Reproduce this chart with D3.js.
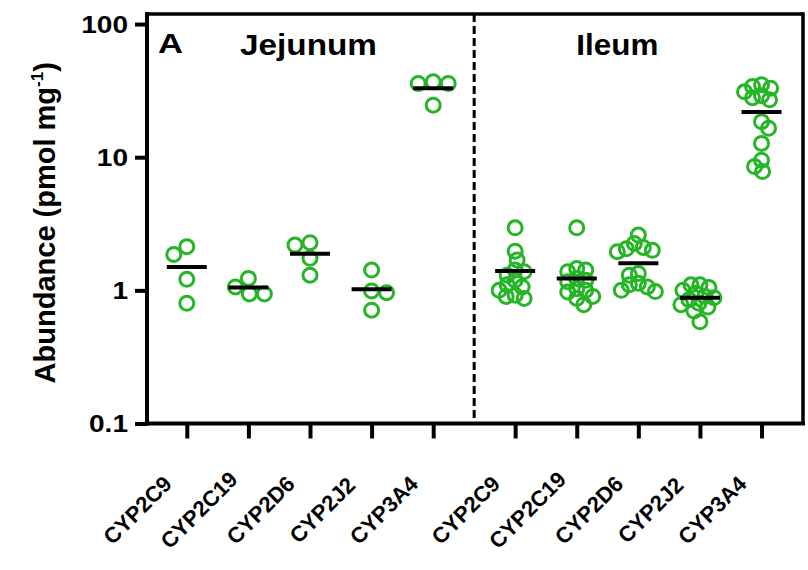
<!DOCTYPE html>
<html><head><meta charset="utf-8">
<script src="https://cdn.jsdelivr.net/npm/d3@7"></script>
<style>
body{margin:0;background:#fff}
svg{display:block}
text{font-family:"Liberation Sans",Arial,sans-serif;font-weight:bold;fill:#000}
</style>
</head><body>
<svg id="chart" width="808" height="570"></svg>
<script>
// ---------- data ----------
const regions = ["Jejunum", "Ileum"];
const enzymes = ["CYP2C9", "CYP2C19", "CYP2D6", "CYP2J2", "CYP3A4"];
const yTicks = [0.1, 1, 10, 100];
const yTickLabels = ["0.1", "1", "10", "100"];
const yTitle = "Abundance (pmol mg";
const yTitleSup = "-1";
const yTitleEnd = ")";
const panelLabel = "A";

const jejunumCYP2C9  = [2.13, 1.86, 1.21, 0.80];
const jejunumCYP2C19 = [1.23, 1.06, 0.94, 0.94];
const jejunumCYP2D6  = [2.28, 2.19, 1.74, 1.30];
const jejunumCYP2J2  = [1.42, 0.99, 0.96, 0.71];
const jejunumCYP3A4  = [36.8, 35.8, 35.8, 24.6];

const ileumCYP2C9  = [2.95, 1.97, 1.69, 1.42, 1.38, 1.30, 1.19, 1.10, 1.06, 1.00, 0.92, 0.90, 0.87];
const ileumCYP2C19 = [2.95, 1.46, 1.42, 1.38, 1.23, 1.19, 1.16, 1.03, 1.00, 0.97, 0.90, 0.87, 0.78];
const ileumCYP2D6  = [2.60, 2.25, 2.10, 2.05, 2.00, 1.95, 1.34, 1.30, 1.13, 1.10, 1.06, 1.00, 0.98];
const ileumCYP2J2  = [1.10, 1.10, 1.05, 1.00, 0.95, 0.90, 0.88, 0.85, 0.80, 0.78, 0.75, 0.70, 0.58];
const ileumCYP3A4  = [35.0, 34.0, 33.0, 31.0, 29.0, 28.0, 27.0, 18.5, 16.5, 12.7, 9.5, 8.5, 7.8];

const jejunumMean = [1.50, 1.05, 1.88, 1.02, 32.9];
const ileumMean   = [1.40, 1.23, 1.60, 0.88, 21.9];

const jejunumData = [jejunumCYP2C9, jejunumCYP2C19, jejunumCYP2D6, jejunumCYP2J2, jejunumCYP3A4];
const ileumData   = [ileumCYP2C9, ileumCYP2C19, ileumCYP2D6, ileumCYP2J2, ileumCYP3A4];

// ---------- layout ----------
const L = 147, R = 803, T = 14, B = 423.5;
const groupGap = 0.33;
const GREEN = "#26b526";

const svg = d3.select("#chart");

const pos = (r, i) => r * (enzymes.length + groupGap) + i;

const x = d3.scaleLinear().domain([-0.646, 10.003]).range([L, R]);
const y = d3.scaleLog().domain([0.1, 119]).range([B, T]);

const groups = [];
regions.forEach((reg, r) => {
  const data = r === 0 ? jejunumData : ileumData;
  const means = r === 0 ? jejunumMean : ileumMean;
  enzymes.forEach((enz, i) => {
    groups.push({region: reg, r, i, enzyme: enz, p: pos(r, i), values: data[i], mean: means[i]});
  });
});

function swarm(values, minDist) {
  const sorted = values.slice().sort((a, b) => b - a);
  const placed = [];
  sorted.forEach((v, k) => {
    const py = y(v);
    let off = 0;
    const sign = k % 2 ? -1 : 1;
    for (let s = 0; s < 80; s++) {
      const cand = s === 0 ? 0 : sign * (s % 2 ? Math.ceil(s / 2) : -s / 2);
      const ok = placed.every(p => Math.hypot(p.off - cand, p.py - py) >= minDist);
      if (ok) { off = cand; break; }
    }
    placed.push({v, py, off});
  });
  return placed;
}

const divX = x((pos(0, enzymes.length - 1) + pos(1, 0)) / 2);
svg.append("line")
  .attr("x1", divX).attr("x2", divX).attr("y1", T).attr("y2", B)
  .attr("stroke", "#000").attr("stroke-width", 3)
  .attr("stroke-dasharray", "8,4");

groups.forEach(g => {
  const cx = x(g.p);
  const pts = swarm(g.values, g.values.length > 6 ? 9 : 15);
  svg.append("g").selectAll("circle").data(pts).join("circle")
    .attr("cx", d => cx + d.off)
    .attr("cy", d => d.py)
    .attr("r", 7)
    .attr("fill", "none")
    .attr("stroke", GREEN)
    .attr("stroke-width", 3);
});

svg.append("g").selectAll("line").data(groups).join("line")
  .attr("x1", d => x(d.p) - 20).attr("x2", d => x(d.p) + 20)
  .attr("y1", d => y(d.mean)).attr("y2", d => y(d.mean))
  .attr("stroke", "#000").attr("stroke-width", 4);

svg.append("line").attr("x1", L).attr("x2", R).attr("y1", T).attr("y2", T)
  .attr("stroke", "#000").attr("stroke-width", 3.5);
svg.append("line").attr("x1", R).attr("x2", R).attr("y1", T - 1.75).attr("y2", B)
  .attr("stroke", "#000").attr("stroke-width", 3.5);

const yAxis = svg.append("g").attr("transform", `translate(${L},0)`)
  .call(d3.axisLeft(y).tickValues(yTicks).tickSize(12).tickFormat(""));
yAxis.select(".domain").attr("stroke-width", 4).attr("d", `M0,${T - 2}V${B + 2}`);
yAxis.selectAll(".tick line").attr("stroke-width", 4);

const xAxis = svg.append("g").attr("transform", `translate(0,${B})`)
  .call(d3.axisBottom(x).tickValues(groups.map(g => g.p)).tickSize(15).tickFormat(""));
xAxis.select(".domain").attr("stroke-width", 4).attr("d", `M${L - 2},0H${R + 2}`);
xAxis.selectAll(".tick line").attr("stroke-width", 4);

svg.append("g").selectAll("text").data(yTicks).join("text")
  .attr("text-anchor", "end")
  .attr("font-size", 23)
  .attr("transform", d => `translate(${L - 19},${y(d) + 8.5}) scale(1.22,1)`)
  .text((d, i) => yTickLabels[i]);

// x tick labels, rotated 45 degrees, centred below each tick
svg.append("g").selectAll("text").data(groups).join("text")
  .attr("text-anchor", "middle")
  .attr("font-size", 22)
  .attr("transform", d => `translate(${x(d.p) - 44},${B + 92}) rotate(-45)`)
  .text(d => d.enzyme);

const yt = svg.append("text")
  .attr("text-anchor", "middle")
  .attr("font-size", 29)
  .attr("transform", `translate(55,${(T + B) / 2 + 4}) rotate(-90)`);
yt.append("tspan").text(yTitle);
yt.append("tspan").attr("font-size", 17).attr("dy", -12).text(yTitleSup);
yt.append("tspan").attr("dy", 12).text(yTitleEnd);

svg.append("text").attr("x", 158).attr("y", 53).attr("font-size", 28)
  .attr("textLength", 25).attr("lengthAdjust", "spacingAndGlyphs").text(panelLabel);
svg.append("text").attr("x", x(pos(0, 2)) - 70).attr("y", 55).attr("font-size", 30)
  .attr("textLength", 137).attr("lengthAdjust", "spacingAndGlyphs").text(regions[0]);
svg.append("text").attr("x", x(pos(1, 2)) - 62).attr("y", 55).attr("font-size", 30)
  .attr("textLength", 82).attr("lengthAdjust", "spacingAndGlyphs").text(regions[1]);
</script>
</body></html>
